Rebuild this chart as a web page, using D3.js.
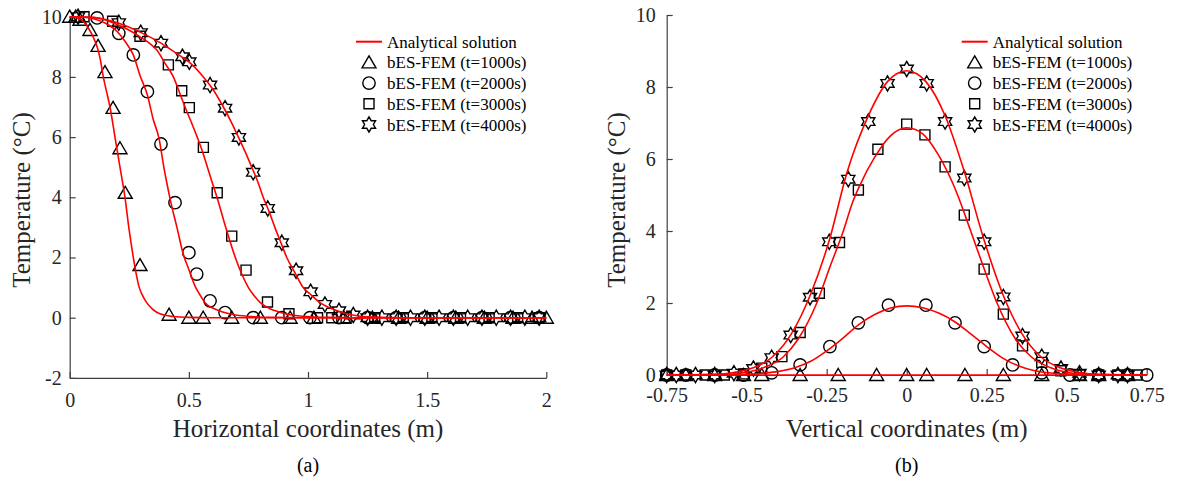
<!DOCTYPE html>
<html>
<head>
<meta charset="utf-8">
<script src="https://cdn.jsdelivr.net/npm/d3@7"></script>
<style>
  body { margin: 0; background: #fff; }
  text { font-family: "Liberation Serif", "Times New Roman", serif; }
</style>
</head>
<body>
<div id="chart"></div>
<script>
/* Temperature profiles: analytical solution vs bES-FEM at four times,
   (a) along the horizontal line, (b) along the vertical line. */

// ---- data ----
const series = ["t=1000s", "t=2000s", "t=3000s", "t=4000s"];

// (a) analytical curves [x (m), T (°C)]
const aCurve1000 = [[0,10],[0.03,9.97],[0.06,9.82],[0.08,9.6],[0.1,9.3],[0.115,9.0],[0.128,8.6],[0.141,8.0],[0.155,7.5],[0.169,7.0],[0.19,6.0],[0.211,5.0],[0.232,4.0],[0.248,3.0],[0.267,2.0],[0.278,1.5],[0.292,1.0],[0.305,0.75],[0.323,0.5],[0.345,0.3],[0.365,0.18],[0.4,0.08],[0.434,0.04],[0.5,0.01],[0.6,0],[2,0]];
const aCurve2000 = [[0,10],[0.05,9.99],[0.1,9.93],[0.15,9.78],[0.2,9.5],[0.235,9.15],[0.267,8.73],[0.295,8.05],[0.326,7.4],[0.35,6.6],[0.375,5.95],[0.395,5.0],[0.407,4.5],[0.424,3.85],[0.45,3.0],[0.477,2.1],[0.5,1.6],[0.526,1.05],[0.545,0.78],[0.568,0.5],[0.6,0.32],[0.638,0.2],[0.69,0.1],[0.743,0.05],[0.85,0.01],[1,0],[2,0]];
const aCurve3000 = [[0,10],[0.1,9.98],[0.18,9.8],[0.25,9.55],[0.295,9.33],[0.33,9.15],[0.365,8.9],[0.4,8.45],[0.435,8.0],[0.46,7.5],[0.484,7.0],[0.51,6.5],[0.535,6.0],[0.558,5.5],[0.578,5.0],[0.595,4.57],[0.618,4.0],[0.655,3.0],[0.695,2.0],[0.722,1.45],[0.75,1.0],[0.775,0.72],[0.8,0.5],[0.84,0.3],[0.875,0.2],[0.925,0.1],[0.975,0.05],[1.1,0.01],[1.2,0],[2,0]];
const aCurve4000 = [[0,10],[0.1,9.97],[0.2,9.8],[0.3,9.47],[0.383,9.12],[0.45,8.77],[0.5,8.5],[0.561,8.0],[0.6,7.6],[0.645,7.0],[0.678,6.5],[0.708,6.0],[0.737,5.5],[0.764,5.0],[0.79,4.5],[0.812,4.0],[0.838,3.5],[0.861,3.0],[0.886,2.5],[0.911,2.0],[0.945,1.5],[0.98,1.0],[1.01,0.78],[1.05,0.5],[1.09,0.33],[1.134,0.2],[1.18,0.1],[1.22,0.05],[1.3,0.015],[1.4,0],[2,0]];

// (a) bES-FEM nodes
const aFem1000 = [[0,10],[0.025,10],[0.043,9.9],[0.085,9.56],[0.119,9.03],[0.148,8.16],[0.182,6.97],[0.211,5.63],[0.233,4.15],[0.295,1.75],[0.417,0.1],[0.5,0],[0.56,0],[0.68,0],[0.8,0],[0.925,0],[1.025,0],[1.15,0],[1.27,0],[1.38,0],[1.5,0],[1.62,0],[1.74,0],[1.86,0],[1.94,0],[2,0]];
const aFem2000 = [[0.115,9.96],[0.206,9.45],[0.267,8.73],[0.326,7.51],[0.383,5.77],[0.442,3.82],[0.5,2.16],[0.533,1.45],[0.589,0.56],[0.652,0.17],[0.77,0],[0.89,0],[1.008,0],[1.13,0],[1.25,0],[1.37,0],[1.49,0],[1.61,0],[1.73,0],[1.85,0],[1.97,0]];
const aFem3000 = [[0.06,10.0],[0.18,9.85],[0.295,9.35],[0.414,8.4],[0.47,7.54],[0.502,6.98],[0.561,5.66],[0.619,4.15],[0.68,2.71],[0.74,1.58],[0.83,0.52],[0.92,0.13],[1.04,0],[1.1,0],[1.16,0],[1.28,0],[1.4,0],[1.52,0],[1.64,0],[1.76,0],[1.88,0],[1.97,0]];
const aFem4000 = [[0.035,10.0],[0.206,9.8],[0.298,9.47],[0.383,9.12],[0.473,8.67],[0.502,8.5],[0.589,7.73],[0.652,6.96],[0.71,5.99],[0.77,4.83],[0.831,3.63],[0.89,2.49],[0.95,1.56],[1.011,0.86],[1.071,0.44],[1.13,0.23],[1.19,0.09],[1.25,0],[1.31,0],[1.37,0],[1.43,0],[1.49,0],[1.55,0],[1.61,0],[1.67,0],[1.73,0],[1.79,0],[1.85,0],[1.91,0],[1.97,0]];

// (b) analytical curves [y (m), T (°C)]
const bCurve1000 = [[-0.75,0],[0.75,0]];
const bCurve2000 = [[-0.75,0],[-0.6,0.003],[-0.5,0.02],[-0.45,0.05],[-0.4,0.1],[-0.35,0.2],[-0.3,0.38],[-0.25,0.67],[-0.2,1.02],[-0.15,1.4],[-0.1,1.68],[-0.05,1.86],[0,1.92],[0.05,1.87],[0.1,1.72],[0.15,1.48],[0.2,1.14],[0.25,0.79],[0.3,0.47],[0.35,0.25],[0.4,0.12],[0.45,0.055],[0.5,0.025],[0.6,0.004],[0.75,0]];
const bCurve3000 = [[-0.75,0],[-0.6,0.01],[-0.52,0.05],[-0.448,0.2],[-0.386,0.5],[-0.339,1.0],[-0.281,2.0],[-0.24,3.0],[-0.198,4.0],[-0.169,4.8],[-0.15,5.2],[-0.1,6.05],[-0.05,6.65],[0,6.87],[0.05,6.7],[0.1,6.1],[0.15,5.2],[0.2,4.0],[0.242,2.95],[0.28,2.05],[0.34,1.0],[0.39,0.5],[0.45,0.2],[0.52,0.05],[0.6,0.01],[0.75,0]];
const bCurve4000 = [[-0.75,0],[-0.6,0.02],[-0.54,0.07],[-0.48,0.2],[-0.42,0.5],[-0.36,1.15],[-0.3,2.25],[-0.24,3.8],[-0.1875,5.6],[-0.12,7.2],[-0.06,8.15],[0,8.45],[0.06,8.15],[0.12,7.2],[0.18,5.65],[0.24,3.8],[0.3,2.25],[0.36,1.15],[0.42,0.5],[0.48,0.2],[0.54,0.07],[0.6,0.02],[0.75,0]];

// (b) bES-FEM nodes
const bFem1000 = [[-0.75,0],[-0.69,0],[-0.6,0],[-0.51,0],[-0.453,0],[-0.333,0],[-0.214,0],[-0.094,0],[0,0],[0.0625,0],[0.182,0],[0.302,0],[0.422,0],[0.54,0],[0.6,0],[0.69,0]];
const bFem2000 = [[-0.75,0],[-0.69,0],[-0.6,0],[-0.51,0],[-0.422,0.06],[-0.333,0.28],[-0.24,0.79],[-0.151,1.45],[-0.057,1.94],[0.06,1.94],[0.151,1.45],[0.242,0.79],[0.331,0.28],[0.422,0.06],[0.51,0],[0.6,0],[0.69,0],[0.75,0]];
const bFem3000 = [[-0.75,0],[-0.69,0],[-0.63,0],[-0.57,0],[-0.51,0.03],[-0.453,0.19],[-0.39,0.51],[-0.333,1.18],[-0.273,2.27],[-0.21,3.68],[-0.151,5.14],[-0.09,6.27],[0,6.97],[0.057,6.67],[0.12,5.78],[0.18,4.44],[0.242,2.94],[0.302,1.69],[0.362,0.81],[0.422,0.35],[0.482,0.12],[0.54,0],[0.6,0],[0.66,0],[0.72,0]];
const bFem4000 = [[-0.75,0],[-0.72,0],[-0.66,0],[-0.6,0],[-0.54,0.05],[-0.479,0.18],[-0.422,0.48],[-0.3625,1.11],[-0.302,2.16],[-0.242,3.7],[-0.1825,5.44],[-0.12,7.04],[-0.06,8.1],[0,8.5],[0.0625,8.1],[0.12,7.04],[0.18,5.47],[0.242,3.7],[0.302,2.17],[0.362,1.08],[0.422,0.51],[0.482,0.18],[0.54,0.05],[0.6,0],[0.66,0],[0.69,0]];

const aTicksX = [0, 0.5, 1, 1.5, 2];
const aTicksY = [-2, 0, 2, 4, 6, 8, 10];
const bTicksX = [-0.75, -0.5, -0.25, 0, 0.25, 0.5, 0.75];
const bTicksY = [0, 2, 4, 6, 8, 10];

// ---- marker shapes (path around 0,0) ----
const shapes = {
  triangle: "M0,-6.5L7,5.5L-7,5.5Z",
  circle: "M6.2,0A6.2,6.2 0 1,1 -6.2,0A6.2,6.2 0 1,1 6.2,0Z",
  square: "M-5,-5H5V5H-5Z",
  star: (() => {
    const R = 7.6, r = R / Math.sqrt(3), pts = [];
    for (let i = 0; i < 12; i++) {
      const a = -Math.PI / 2 + i * Math.PI / 6, rr = i % 2 ? r : R;
      pts.push([rr * Math.cos(a), rr * Math.sin(a)]);
    }
    return "M" + pts.map(p => p.map(v => v.toFixed(2)).join(",")).join("L") + "Z";
  })()
};
const shapeOrder = ["triangle", "circle", "square", "star"];

const width = 1177, height = 481;
const svg = d3.select("#chart").append("svg")
  .attr("width", width)
  .attr("height", height);

function panel(opt) {
  const x = d3.scaleLinear().domain(opt.xDomain).range(opt.xRange);
  const y = d3.scaleLinear().domain(opt.yDomain).range(opt.yRange);
  const g = svg.append("g");

  // axes, ticks pointing inward
  const xAxis = g.append("g")
    .attr("transform", `translate(0,${opt.yRange[0]})`)
    .call(d3.axisBottom(x).tickValues(opt.xTicks).tickFormat(d => String(d))
      .tickSizeInner(-6).tickSizeOuter(0).tickPadding(opt.xPad));
  const yAxis = g.append("g")
    .attr("transform", `translate(${opt.xRange[0]},0)`)
    .call(d3.axisLeft(y).tickValues(opt.yTicks).tickFormat(d => String(d))
      .tickSizeInner(-6).tickSizeOuter(0).tickPadding(opt.yPad));
  [xAxis, yAxis].forEach(a => {
    a.attr("font-size", 20).attr("font-family", "Liberation Serif");
    a.select(".domain").attr("stroke", "#404040").attr("stroke-width", 1.2);
    a.selectAll(".tick line").attr("stroke", "#404040").attr("stroke-width", 1.2);
    a.selectAll(".tick text").attr("fill", "#262626");
  });

  // markers
  opt.fem.forEach((pts, i) => {
    g.append("g")
      .attr("fill", "none")
      .attr("stroke", "#000")
      .attr("stroke-width", 1.4)
      .selectAll("path")
      .data(pts)
      .join("path")
      .attr("transform", d => `translate(${x(d[0])},${y(d[1])})`)
      .attr("d", shapes[shapeOrder[i]]);
  });

  // analytical lines on top
  const line = d3.line().x(d => x(d[0])).y(d => y(d[1])).curve(d3.curveMonotoneX);
  g.append("g")
    .attr("fill", "none")
    .attr("stroke", "#ff0000")
    .attr("stroke-width", 1.6)
    .selectAll("path")
    .data(opt.curves)
    .join("path")
    .attr("d", line);

  // axis titles
  const xMid = (opt.xRange[0] + opt.xRange[1]) / 2;
  g.append("text")
    .attr("x", xMid).attr("y", 437)
    .attr("text-anchor", "middle").attr("font-size", 25).attr("fill", "#262626")
    .text(opt.xTitle);
  g.append("text")
    .attr("transform", `translate(${opt.yTitleX},200) rotate(-90)`)
    .attr("text-anchor", "middle").attr("font-size", 25).attr("fill", "#262626")
    .text("Temperature (°C)");
  g.append("text")
    .attr("x", xMid).attr("y", 472)
    .attr("text-anchor", "middle").attr("font-size", 20).attr("fill", "#000")
    .text(opt.label);

  // legend
  const rows = [41.7, 62.4, 83.1, 103.8, 124.5];
  const lg = g.append("g").attr("transform", `translate(${opt.legendX},0)`);
  lg.append("line")
    .attr("x1", 0).attr("x2", 26).attr("y1", rows[0]).attr("y2", rows[0])
    .attr("stroke", "#ff0000").attr("stroke-width", 2);
  lg.selectAll("path")
    .data(shapeOrder)
    .join("path")
    .attr("transform", (d, i) => `translate(13,${rows[i + 1]})`)
    .attr("d", d => shapes[d])
    .attr("fill", "none").attr("stroke", "#000").attr("stroke-width", 1.4);
  lg.selectAll("text")
    .data(["Analytical solution"].concat(series.map(s => `bES-FEM (${s})`)))
    .join("text")
    .attr("x", 31)
    .attr("y", (d, i) => rows[i] + 6)
    .attr("font-size", 17)
    .attr("fill", "#000")
    .text(d => d);
}

panel({
  xDomain: [0, 2], xRange: [69.7, 546.3],
  yDomain: [-2, 10], yRange: [377.9, 16.7],
  xTicks: aTicksX, yTicks: aTicksY, xPad: 15, yPad: 8,
  curves: [aCurve1000, aCurve2000, aCurve3000, aCurve4000],
  fem: [aFem1000, aFem2000, aFem3000, aFem4000],
  xTitle: "Horizontal coordinates (m)", yTitleX: 30, label: "(a)",
  legendX: 356
});

panel({
  xDomain: [-0.75, 0.75], xRange: [666.7, 1146.7],
  yDomain: [0, 10], yRange: [375, 15],
  xTicks: bTicksX, yTicks: bTicksY, xPad: 13, yPad: 11,
  curves: [bCurve1000, bCurve2000, bCurve3000, bCurve4000],
  fem: [bFem1000, bFem2000, bFem3000, bFem4000],
  xTitle: "Vertical coordinates (m)", yTitleX: 625, label: "(b)",
  legendX: 961.7
});
</script>
</body>
</html>
